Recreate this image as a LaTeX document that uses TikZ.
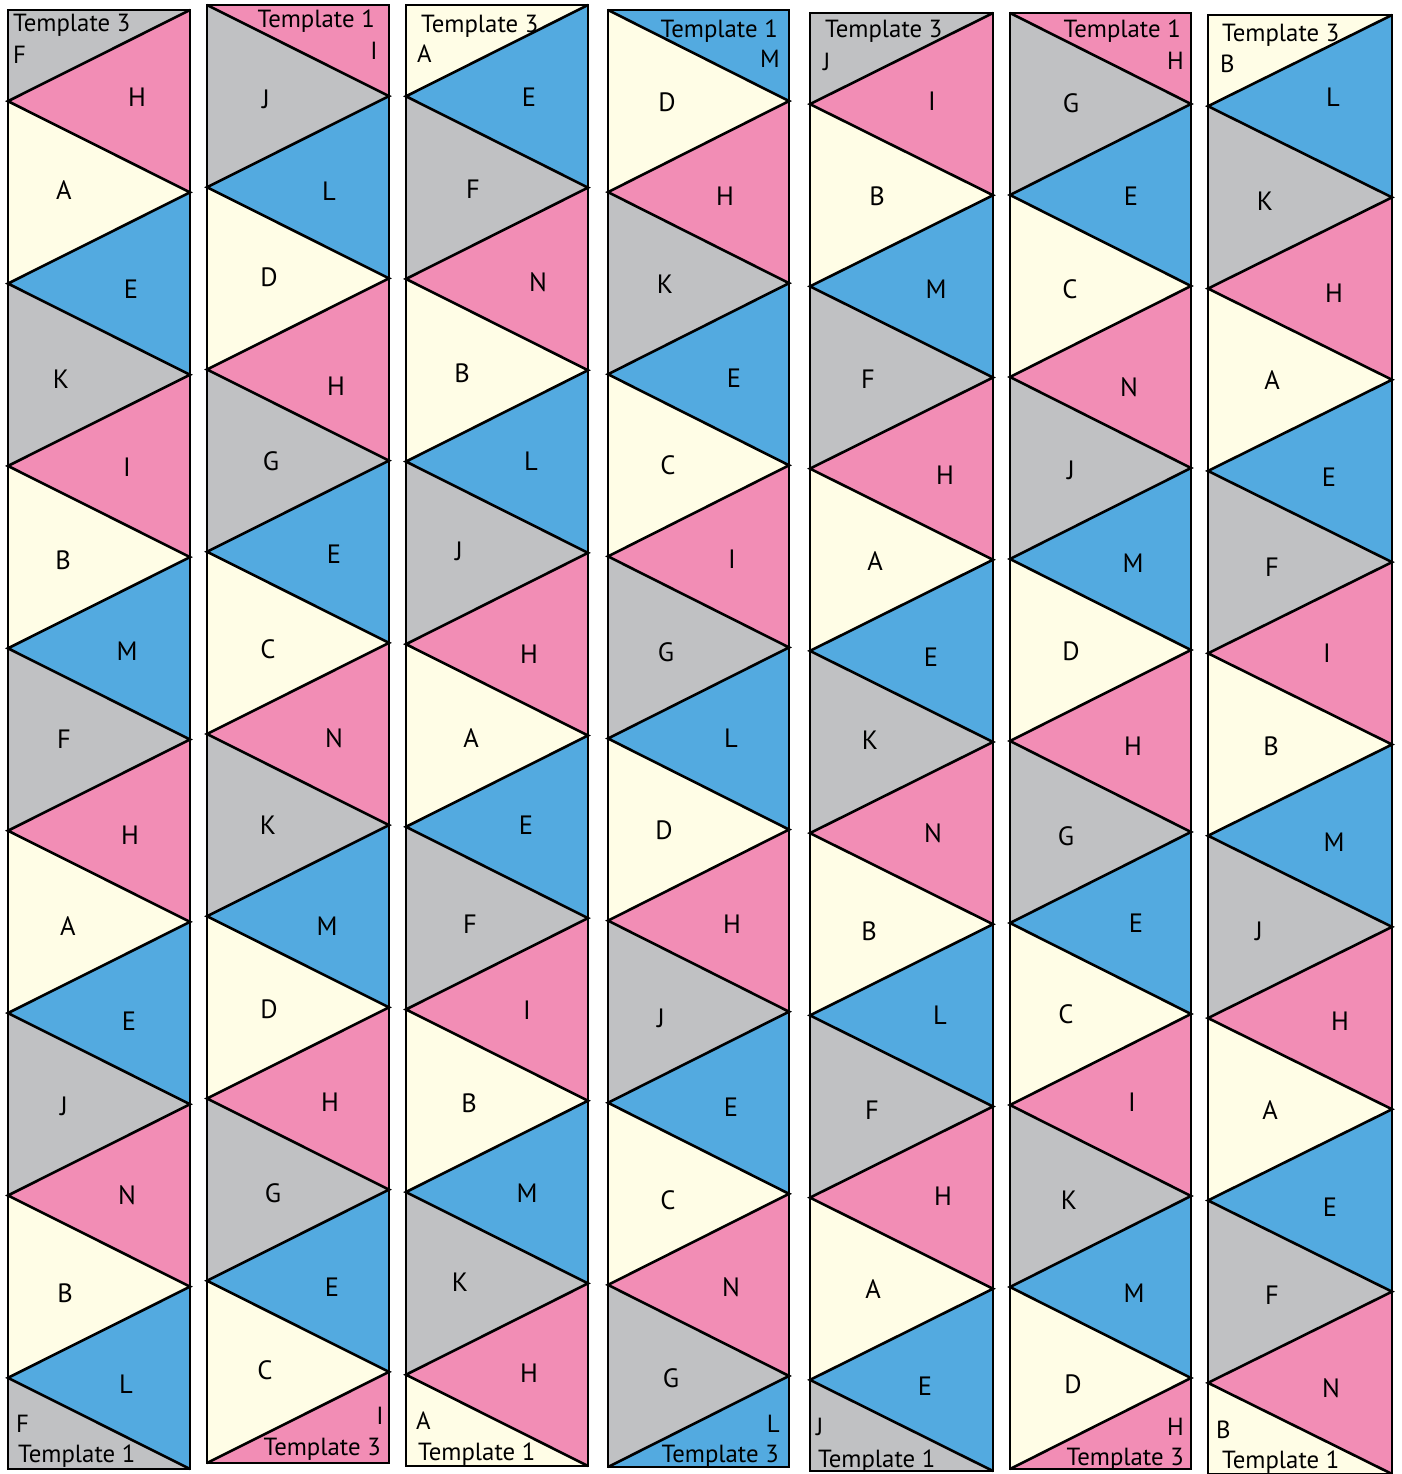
\documentclass[tikz,border=0pt]{standalone}
\usepackage{fontspec}
\setmainfont{PT Sans}
\definecolor{creamc}{HTML}{FFFDE6}
\definecolor{pinkc}{HTML}{F28DB5}
\definecolor{bluec}{HTML}{53AAE0}
\definecolor{grayc}{HTML}{C0C1C3}
\colorlet{cA}{creamc}\colorlet{cB}{creamc}\colorlet{cC}{creamc}\colorlet{cD}{creamc}
\colorlet{cE}{bluec}\colorlet{cL}{bluec}\colorlet{cM}{bluec}
\colorlet{cF}{grayc}\colorlet{cG}{grayc}\colorlet{cJ}{grayc}\colorlet{cK}{grayc}
\colorlet{cH}{pinkc}\colorlet{cI}{pinkc}\colorlet{cN}{pinkc}
\tikzset{
  lab/.style={font=\fontsize{24.8}{30}\selectfont, inner sep=0pt, text=black},
  tri/.style={font=\fontsize{26.5}{32}\selectfont, inner sep=0pt, text=black},
  stripline/.style={line width=2.6pt, draw=black}
}
% #1 id, #2 xl, #3 xr, #4 yt, #5 yb, #6 start side (0 right, 1 left), #7 half letter, #8 list
\newcommand\dostrip[8]{%
  \pgfmathsetmacro\hs{(#5-#4)/16}%
  \pgfmathsetmacro\xs{#6==1 ? #2 : #3}%
  \pgfmathsetmacro\xo{#6==1 ? #3 : #2}%
  \fill[fill=c#7] (\xo,#4) -- (\xs,#4) -- (\xo,#4+\hs) -- cycle;
  \fill[fill=c#7] (\xo,#5-\hs) -- (\xo,#5) -- (\xs,#5) -- cycle;
  \foreach \lt/\lx/\ly [count=\i] in {#8} {
    \pgfmathsetmacro\yA{#4+(\i-1)*\hs}
    \pgfmathsetmacro\yB{#4+\i*\hs}
    \pgfmathsetmacro\yC{#4+(\i+1)*\hs}
    \pgfmathsetmacro\xm{\xs+(\xo-\xs)*mod(\i,2)}
    \pgfmathsetmacro\xn{\xo+(\xs-\xo)*mod(\i,2)}
    \fill[fill=c\lt] (\xn,\yA) -- (\xm,\yB) -- (\xn,\yC) -- cycle;
    \node[tri] (s#1t\i) at (\lx,\ly) {\lt};
  }
  \draw[stripline] (\xs,#4) \foreach \k in {1,...,16} { -- ({\xs+(\xo-\xs)*mod(\k,2)}, {#4+\k*\hs}) };
  \draw[stripline] (#2,#4) rectangle (#3,#5);
}
\begin{document}
\begin{tikzpicture}[x=1pt,y=-1pt]
\useasboundingbox (0,0) rectangle (1401,1474);
\fill[white] (0,0) rectangle (1401,1474);

\dostrip{1}{8}{190}{10}{1469}{0}{F}{H/137/97, A/64/190, E/131/289, K/61/379, I/127/467, B/63/560, M/127/651, F/64/739, H/130/835, A/68/926, E/129/1021, J/64/1106, N/127/1195, B/65/1293, L/126/1384}
\dostrip{2}{207}{389}{5}{1463}{1}{I}{J/266/99, L/329/191, D/269/277, H/336/386, G/271/461, E/334/554, C/268/649, N/334/738, K/268/825, M/327/926, D/269/1009, H/330/1102, G/273/1193, E/332/1287, C/265/1370}
\dostrip{3}{406}{588}{5}{1466}{0}{A}{E/529/97, F/473/189, N/538/282, B/462/373, L/531/461, J/459/551, H/529/654, A/471/738, E/526/825, F/470/924, I/527/1010, B/469/1103, M/527/1193, K/460/1282, H/529/1373}
\dostrip{4}{608}{789}{10}{1467}{1}{M}{D/667/102, H/725/196, K/665/284, E/734/378, C/668/465, I/732/559, G/666/652, L/731/738, D/664/830, H/732/924, J/661/1018, E/731/1107, C/668/1200, N/731/1287, G/671/1378}
\dostrip{5}{810}{993}{13}{1471}{0}{J}{I/932/101, B/877/196, M/936/289, F/868/379, H/945/475, A/875/561, E/931/657, K/870/740, N/933/833, B/869/931, L/940/1015, F/872/1110, H/943/1196, A/873/1289, E/925/1386}
\dostrip{6}{1010}{1191}{13}{1469}{1}{H}{G/1071/103, E/1131/196, C/1070/289, N/1129/387, J/1071/470, M/1133/563, D/1071/651, H/1133/746, G/1066/836, E/1136/923, C/1066/1014, I/1132/1102, K/1069/1200, M/1134/1293, D/1073/1384}
\dostrip{7}{1208}{1392}{15}{1474}{0}{B}{L/1333/97, K/1265/201, H/1334/293, A/1272/380, E/1329/477, F/1272/567, I/1327/653, B/1271/746, M/1334/842, J/1259/931, H/1340/1021, A/1270/1110, E/1330/1207, F/1272/1295, N/1331/1388}

\node[lab, anchor=base west] (t1a) at (13,32) {Template 3};
\node[lab, anchor=base west] (t1b) at (13,64) {F};
\node[lab, anchor=base west] (t1c) at (16,1432) {F};
\node[lab, anchor=base west] (t1d) at (18,1462) {Template 1};
\node[lab, anchor=base east] (t2a) at (375,28) {Template 1};
\node[lab, anchor=base] (t2b) at (374,60) {I};
\node[lab, anchor=base] (t2c) at (380,1424) {I};
\node[lab, anchor=base east] (t2d) at (381,1455) {Template 3};
\node[lab, anchor=base west] (t3a) at (421,33) {Template 3};
\node[lab, anchor=base west] (t3b) at (417,63) {A};
\node[lab, anchor=base west] (t3c) at (416,1429) {A};
\node[lab, anchor=base west] (t3d) at (418,1460) {Template 1};
\node[lab, anchor=base east] (t4a) at (778,38) {Template 1};
\node[lab, anchor=base east] (t4b) at (780,68) {M};
\node[lab, anchor=base east] (t4c) at (780,1432) {L};
\node[lab, anchor=base east] (t4d) at (779,1462) {Template 3};
\node[lab, anchor=base west] (t5a) at (825,38) {Template 3};
\node[lab, anchor=base west] (t5b) at (823,71) {J};
\node[lab, anchor=base west] (t5c) at (816,1435) {J};
\node[lab, anchor=base west] (t5d) at (818,1467) {Template 1};
\node[lab, anchor=base east] (t6a) at (1181,38) {Template 1};
\node[lab, anchor=base east] (t6b) at (1184,70) {H};
\node[lab, anchor=base east] (t6c) at (1184,1435) {H};
\node[lab, anchor=base east] (t6d) at (1184,1465) {Template 3};
\node[lab, anchor=base west] (t7a) at (1222,42) {Template 3};
\node[lab, anchor=base west] (t7b) at (1220,73) {B};
\node[lab, anchor=base west] (t7c) at (1216,1438) {B};
\node[lab, anchor=base west] (t7d) at (1222,1468) {Template 1};
\end{tikzpicture}
\end{document}
